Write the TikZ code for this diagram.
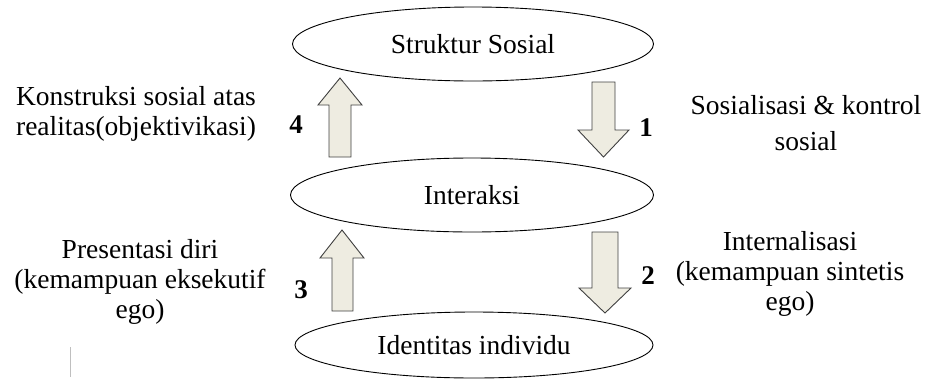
\documentclass[tikz,border=0pt]{standalone}
\usepackage{fontspec}
\setmainfont{Liberation Serif}
\usetikzlibrary{shapes.geometric}
\definecolor{arrowfill}{HTML}{EEECE1}
\definecolor{arrowedge}{HTML}{404040}
\tikzset{
  x=1pt, y=-1pt,
  oval/.style={ellipse, draw=black, line width=0.9pt, inner sep=0pt, font=\fontsize{27.5}{30}\selectfont},
  blockarrow/.style={draw=arrowedge, fill=arrowfill, line width=0.9pt, line join=miter},
  label/.style={align=center, inner sep=0pt, font=\fontsize{27.5}{30}\selectfont},
  num/.style={inner sep=0pt, font=\fontsize{27}{30}\selectfont\bfseries},
}
\begin{document}
\begin{tikzpicture}
\useasboundingbox (0,0) rectangle (928,381);
% ellipses
\node[oval, minimum width=361pt, minimum height=74pt] (ss) at (473,44) {Struktur Sosial};
\node[oval, minimum width=363pt, minimum height=74pt] (ia) at (472,195) {Interaksi};
\node[oval, minimum width=358pt, minimum height=66pt] (id) at (474,345) {Identitas individu};
% block arrows
% 4 up
\draw[blockarrow] (329,157) -- (329,105) -- (318,105) -- (340,78) -- (362,105) -- (351,105) -- (351,157) -- cycle;
% 1 down
\draw[blockarrow] (592,82) -- (592,130) -- (578,130) -- (603.5,157) -- (629,130) -- (615,130) -- (615,82) -- cycle;
% 3 up
\draw[blockarrow] (332,311) -- (332,258) -- (320,258) -- (342,230) -- (364,258) -- (353,258) -- (353,311) -- cycle;
% 2 down
\draw[blockarrow] (592,232) -- (592,288) -- (579,288) -- (605,313) -- (631,288) -- (618,288) -- (618,232) -- cycle;
% numbers
\node[num] (n4) at (296,125) {4};
\node[num] (n1) at (646,128) {1};
\node[num] (n3) at (301,290) {3};
\node[num] (n2) at (648,276) {2};
% labels
\node[label] (l4) at (136,114) {Konstruksi sosial atas\\realitas(objektivikasi)};
\node[label] (l1) at (806,123) {Sosialisasi \& kontrol\\[6pt]sosial};
\node[label] (l3) at (140,282) {Presentasi diri\\(kemampuan eksekutif\\ego)};
\node[label] (l2) at (790,274) {Internalisasi\\(kemampuan sintetis\\ego)};
% stray vertical mark
\coordinate (v1) at (70,347);
\coordinate (v2) at (70,377);
\draw[gray!50, line width=0.8pt] (v1) -- (v2);
\end{tikzpicture}
\end{document}
